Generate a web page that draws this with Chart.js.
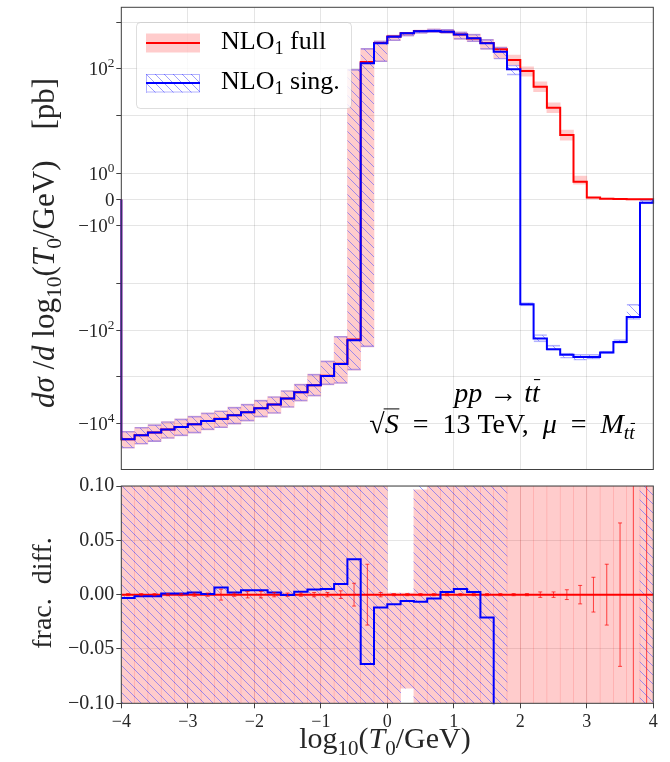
<!DOCTYPE html>
<html>
<head>
<meta charset="utf-8">
<script src="https://cdn.jsdelivr.net/npm/chart.js@4.4.1/dist/chart.umd.min.js"></script>
<style>
  html, body { margin: 0; padding: 0; background: #fff; }
  #wrap { position: relative; width: 670px; height: 762px; }
  canvas { position: absolute; left: 0; }
  #top { top: 0; }
  #bottom { top: 472px; }
</style>
</head>
<body>
<div id="wrap">
  <canvas id="top" width="670" height="472"></canvas>
  <canvas id="bottom" width="670" height="290"></canvas>
</div>
<script>
// bin edges / centres of log10(T0/GeV)
const edges = [-4.0,-3.8,-3.6,-3.4,-3.2,-3.0,-2.8,-2.6,-2.4,-2.2,-2.0,-1.8,-1.6,-1.4,-1.2,-1.0,-0.8,-0.6,-0.4,-0.2,
               0.0,0.2,0.4,0.6,0.8,1.0,1.2,1.4,1.6,1.8,2.0,2.2,2.4,2.6,2.8,3.0,3.2,3.4,3.6,3.8,4.0];
const centres = [-3.9,-3.7,-3.5,-3.3,-3.1,-2.9,-2.7,-2.5,-2.3,-2.1,-1.9,-1.7,-1.5,-1.3,-1.1,-0.9,-0.7,-0.5,-0.3,-0.1,
                 0.1,0.3,0.5,0.7,0.9,1.1,1.3,1.5,1.7,1.9,2.1,2.3,2.5,2.7,2.9,3.1,3.3,3.5,3.7,3.9];

// NLO1 full [pb]
const fullVal = [-22170,-18190,-15910,-13670,-12010,-10500,-8920,-8040,-6730,-5790,
                 -4750,-3960,-2950,-2155,-1523,-959,-526,-159,139,355,
                 490,578,644,647,623,544,448,358,262,153.5,
                 88.9,40.9,14.5,3.74,0.681,0.077,0.03,0.012,0.008,0.006];
const fullLo = [-34600,-28390,-24830,-21340,-18750,-16390,-13920,-12550,-10510,-9040,
                -7410,-6180,-4600,-3360,-2630,-1503,-1400,-726,-229,141,
                399,503,575,593,575,428,379,261,167,120,
                69.5,31.9,11.3,2.92,0.592,0.02,0,0,0,0];
const fullHi = [-14920,-12240,-10710,-9200,-8080,-7070,-6000,-5410,-4530,-3900,
                -3200,-2670,-1985,-1450,-885,-458,-135,97,273,399,
                528,604,678,723,702,622,556,428,297,196,
                110,52.4,18.5,4.79,0.902,0.086,0.05,0.03,0.02,0.02];

// NLO1 sing. [pb]
const singVal = [-22100,-18160,-15890,-13680,-12020,-10520,-8930,-8090,-6740,-5810,
                 -4770,-3970,-2950,-2160,-1530,-964,-531,-164,130.3,351,
                 486,575,640,645,625,547,449,351,231,96.8,
                 -27.7,-151,-256,-340,-376,-376,-302,-179,-51.9,-0.132];
const singLo = [-34600,-28390,-24830,-21340,-18750,-16390,-13920,-12550,-10510,-9040,
                -7410,-6180,-4600,-3360,-2630,-1503,-1400,-726,-229,141,
                399,503,575,593,575,428,379,261,160,73,
                -30,-179,-270,-401,-443,-421,-318,-194,-59,-0.17];
const singHi = [-14920,-12240,-10710,-9200,-8080,-7070,-6000,-5410,-4530,-3900,
                -3200,-2670,-1985,-1450,-885,-458,-135,97,273,399,
                528,604,678,723,702,622,556,428,290,120,
                -25.5,-124,-210,-313,-329,-329,-283,-159,-27.7,0];

// fractional difference panel
const fracFull = [0,0,0,0,0,0,0,0,0,0, 0,0,0,0,0,0,0,0,0,0, 0,0,0,0,0,0,0,0,0,0, 0,0,0,0,0,0,0,0,0,0];
const fracErr = [0.001,0.001,0.001,0.001,0.001,0.0015,0.0015,0.005,0.0015,0.003,
                 0.003,0.002,0.0015,0.0015,0.002,0.002,0.0035,0.0105,0.028,0.002,
                 0.001,0.001,0.001,0.001,0.001,0.001,0.001,0.001,0.001,0.001,
                 0.001,0.0025,0.0025,0.0045,0.0085,0.016,0.028,0.066,1,1];
const fracSing = [-0.003,-0.0015,-0.0015,0.001,0.001,0.002,0.0006,0.0065,0.002,0.004,
                  0.004,0.002,-0.0003,0.0026,0.0047,0.0053,0.0097,0.0326,-0.0638,-0.0118,
                  -0.0088,-0.0059,-0.0065,-0.0035,0.0024,0.0053,0.0024,-0.021,-0.12,-0.37,
                  -1.31,-4.7,-18.7,-92,-553,-4880,-10000,-15000,-6500,-23];
const fracFullLo = [-1,-1,-1,-1,-1,-1,-1,-1,-1,-1, -1,-1,-1,-1,-1,-1,-1,-1,-1,-1,
                    -1,-0.086,-1,-1,-1,-1,-1,-1,-1,-1, -1,-1,-1,-1,-1,-1,-1,-1,-1,-1];
const fracFullHi = [1,1,1,1,1,1,1,1,1,1, 1,1,1,1,1,1,1,1,1,1,
                    0.0015,0.0015,0.0965,1,1,1,1,1,1,1, 1,1,1,1,1,1,1,1,1,1];
const fracSingLo = [-1,-1,-1,-1,-1,-1,-1,-1,-1,-1, -1,-1,-1,-1,-1,-1,-1,-1,-1,-1,
                    -1,-0.086,-1,-1,-1,-1,-1,-1,-1,null, null,null,null,null,null,null,null,null,null,-1];
const fracSingHi = [1,1,1,1,1,1,1,1,1,1, 1,1,1,1,1,1,1,1,1,1,
                    0.0015,0.0015,1,1,1,1,1,1,1,null, null,null,null,null,null,null,null,null,null,1];

const yTicksTop = [-1e4,-1e3,-1e2,-10,-1,0,1,10,1e2,1e3];
const yLabelsTop = [-1e4,-1e2,-1,0,1,1e2];

const FONT = '"Liberation Serif", "DejaVu Serif", serif';
const GRID = 'rgba(0,0,0,0.1)';
const AXIS = '#404040';
const TEXT = '#262626';
Chart.defaults.font.family = FONT;
Chart.defaults.font.size = 18;
Chart.defaults.color = TEXT;

// matplotlib-like symlog, linthresh 2, linscale 1
const LINTHRESH = 2, LINSCALE = 1 / (1 - 1 / 10);
const symlog = v => {
    const a = Math.abs(v);
    return a <= LINTHRESH ? v / LINTHRESH * LINSCALE : Math.sign(v) * (LINSCALE + Math.log10(a / LINTHRESH));
};
const symexp = t => {
    const a = Math.abs(t);
    return a <= LINSCALE ? t / LINSCALE * LINTHRESH : Math.sign(t) * LINTHRESH * Math.pow(10, a - LINSCALE);
};

class SymlogScale extends Chart.Scale {
    static id = 'symlog';
    static defaults = {};
    determineDataLimits() { this.min = this.options.min; this.max = this.options.max; }
    buildTicks() { return yTicksTop.map(v => ({ value: v })); }
    configure() { super.configure(); this._t0 = symlog(this.min); this._t1 = symlog(this.max); }
    getLabelForValue(v) { return String(v); }
    getPixelForValue(v) { return this.getPixelForDecimal((symlog(v) - this._t0) / (this._t1 - this._t0)); }
    getValueForPixel(p) { return symexp(this._t0 + this.getDecimalForPixel(p) * (this._t1 - this._t0)); }
}
Chart.register(SymlogScale);

function makeHatch() {
    const c = document.createElement('canvas');
    c.width = 9; c.height = 9;
    const g = c.getContext('2d');
    g.strokeStyle = 'rgba(80,80,255,0.55)';
    g.lineWidth = 1;
    g.beginPath();
    for (const o of [-9, 0, 9]) { g.moveTo(o, 0); g.lineTo(o + 9, 9); }
    g.stroke();
    return g.createPattern(c, 'repeat');
}
const hatch = makeHatch();

function stepPoints(vals, closed) {
    const pts = [];
    if (closed) pts.push({ x: edges[0], y: 0 });
    vals.forEach((v, i) => pts.push({ x: edges[i], y: v }));
    pts.push({ x: edges[edges.length - 1], y: vals[vals.length - 1] });
    if (closed) pts.push({ x: edges[edges.length - 1], y: 0 });
    return pts;
}
function bandBars(lo, hi) {
    const out = [];
    centres.forEach((c, i) => { if (lo[i] !== null) out.push({ x: c, y: [lo[i], hi[i]] }); });
    return out;
}

// text with italic / sub / sup / overbar pieces
function drawRich(ctx, segs, x, y, size, align) {
    const parts = segs.map(s => {
        const sz = (s.sub || s.sup) ? size * 0.7 : size;
        const font = (s.it ? 'italic ' : '') + sz + 'px ' + FONT;
        ctx.font = font;
        return { s, font, w: ctx.measureText(s.t).width };
    });
    const total = parts.reduce((a, p) => a + p.w, 0);
    let cx = align === 'center' ? x - total / 2 : align === 'right' ? x - total : x;
    ctx.textAlign = 'left';
    ctx.textBaseline = 'alphabetic';
    for (const p of parts) {
        ctx.font = p.font;
        const dy = p.s.sub ? size * 0.22 : p.s.sup ? -size * 0.42 : 0;
        ctx.fillText(p.s.t, cx, y + dy);
        if (p.s.bar) {
            const h = (p.s.sub ? size * 0.7 : size) * (p.s.bar === 'rad' ? 0.86 : 0.8);
            ctx.save();
            ctx.lineWidth = p.s.bar === 'rad' ? 1 : 1.1;
            ctx.strokeStyle = ctx.fillStyle;
            ctx.beginPath();
            const x0 = p.s.bar === 'rad' ? cx - 1 : cx + p.w * 0.25;
            ctx.moveTo(x0, y + dy - h);
            ctx.lineTo(cx + p.w * 1.05, y + dy - h);
            ctx.stroke();
            ctx.restore();
        }
        cx += p.w;
    }
}

function drawFrame(chart) {
    const { ctx, chartArea: a } = chart;
    ctx.save();
    ctx.strokeStyle = AXIS;
    ctx.lineWidth = 1;
    ctx.strokeRect(a.left, a.top, a.right - a.left, a.bottom - a.top);
    ctx.restore();
}

const topDecor = {
    id: 'topDecor',
    afterDatasetsDraw(chart) {
        const ctx = chart.ctx;
        ctx.save();
        ctx.fillStyle = '#000';
        drawRich(ctx, [{ t: 'pp', it: 1 }, { t: ' → ' }, { t: 't', it: 1 }, { t: 't', it: 1, bar: 1 }], 497, 402, 28, 'center');
        drawRich(ctx, [{ t: '√' }, { t: 'S', it: 1, bar: 'rad' }, { t: '  =  13 TeV,  ' }, { t: 'μ', it: 1 }, { t: '  =  ' },
                       { t: 'M', it: 1 }, { t: 't', it: 1, sub: 1 }, { t: 't', it: 1, sub: 1, bar: 1 }], 502, 433, 28, 'center');

        // legend
        ctx.beginPath();
        ctx.roundRect(136.5, 22.5, 215, 86, 4);
        ctx.fillStyle = 'rgba(255,255,255,0.8)';
        ctx.fill();
        ctx.strokeStyle = 'rgba(0,0,0,0.13)';
        ctx.lineWidth = 1;
        ctx.stroke();
        ctx.fillStyle = 'rgba(255,0,0,0.2)';
        ctx.fillRect(146, 33.5, 54, 19);
        ctx.strokeStyle = '#ff0000'; ctx.lineWidth = 2;
        ctx.beginPath(); ctx.moveTo(146, 43); ctx.lineTo(200, 43); ctx.stroke();
        ctx.fillStyle = hatch;
        ctx.fillRect(146, 74, 54, 18.5);
        ctx.strokeStyle = 'rgba(0,0,255,0.3)'; ctx.lineWidth = 1;
        ctx.strokeRect(146.5, 74.5, 53, 17.5);
        ctx.strokeStyle = '#0000ff'; ctx.lineWidth = 2;
        ctx.beginPath(); ctx.moveTo(146, 83); ctx.lineTo(200, 83); ctx.stroke();
        ctx.fillStyle = '#000';
        drawRich(ctx, [{ t: 'NLO' }, { t: '1', sub: 1 }, { t: ' full' }], 221, 48.5, 26, 'left');
        drawRich(ctx, [{ t: 'NLO' }, { t: '1', sub: 1 }, { t: ' sing.' }], 221, 88.5, 26, 'left');
        ctx.restore();
    },
    afterDraw(chart) {
        const ctx = chart.ctx;
        const ys = chart.scales.y;
        drawFrame(chart);
        ctx.save();
        ctx.fillStyle = TEXT;
        for (const v of yLabelsTop) {
            const py = ys.getPixelForValue(v) + 19 * 0.34;
            if (v === 0) { drawRich(ctx, [{ t: '0' }], 114.5, py, 19, 'right'); continue; }
            const e = String(Math.round(Math.log10(Math.abs(v))));
            drawRich(ctx, [{ t: (v < 0 ? '−' : '') + '10' }, { t: e, sup: 1 }], 114.5, py, 19, 'right');
        }
        ctx.translate(54, 243);
        ctx.rotate(-Math.PI / 2);
        drawRich(ctx, [{ t: 'dσ', it: 1 }, { t: ' /' }, { t: 'd', it: 1 }, { t: ' log' }, { t: '10', sub: 1 }, { t: '(' },
                       { t: 'T', it: 1 }, { t: '0', sub: 1 }, { t: '/GeV)' }, { t: '    [pb]' }], 0, 0, 31, 'center');
        ctx.restore();
    }
};

const bottomDecor = {
    id: 'bottomDecor',
    afterDatasetsDraw(chart) {
        const { ctx, chartArea: a } = chart;
        const xs = chart.scales.x, ys = chart.scales.y;
        ctx.save();
        ctx.beginPath();
        ctx.rect(a.left, a.top, a.right - a.left, a.bottom - a.top);
        ctx.clip();
        ctx.strokeStyle = 'rgba(255,0,0,0.7)';
        ctx.lineWidth = 1;
        centres.forEach((c, i) => {
            const px = xs.getPixelForValue(c);
            const y1 = ys.getPixelForValue(fracFull[i] + fracErr[i]);
            const y2 = ys.getPixelForValue(fracFull[i] - fracErr[i]);
            ctx.beginPath();
            ctx.moveTo(px, y1); ctx.lineTo(px, y2);
            ctx.moveTo(px - 2, y1); ctx.lineTo(px + 2, y1);
            ctx.moveTo(px - 2, y2); ctx.lineTo(px + 2, y2);
            ctx.stroke();
        });
        ctx.restore();
    },
    afterDraw(chart) {
        const ctx = chart.ctx;
        drawFrame(chart);
        ctx.save();
        ctx.fillStyle = TEXT;
        drawRich(ctx, [{ t: 'log' }, { t: '10', sub: 1 }, { t: '(' }, { t: 'T', it: 1 }, { t: '0', sub: 1 }, { t: '/GeV)' }], 385, 276, 30, 'center');
        ctx.translate(51, 121);
        ctx.rotate(-Math.PI / 2);
        drawRich(ctx, [{ t: 'frac.  diff.' }], 0, 0, 28, 'center');
        ctx.restore();
    }
};

const barBase = { type: 'bar', grouped: false, barPercentage: 1, categoryPercentage: 1, clip: 0 };

new Chart(document.getElementById('top'), {
    type: 'bar',
    data: {
        datasets: [
            { type: 'line', label: 'NLO1 sing.', data: stepPoints(singVal, true), borderColor: '#0000ff', borderWidth: 2,
              stepped: true, pointRadius: 0, fill: false, order: 0, clip: 1 },
            { ...barBase, label: 'sing. band', data: bandBars(singLo, singHi), backgroundColor: hatch,
              borderColor: 'rgba(0,0,255,0.3)', borderWidth: { top: 1, bottom: 1, left: 0, right: 0 }, borderSkipped: false, order: 1 },
            { type: 'line', label: 'NLO1 full', data: stepPoints(fullVal, true), borderColor: '#ff0000', borderWidth: 2,
              stepped: true, pointRadius: 0, fill: false, order: 2, clip: 1 },
            { ...barBase, label: 'full band', data: bandBars(fullLo, fullHi), backgroundColor: 'rgba(255,0,0,0.2)',
              borderWidth: 0, order: 3 }
        ]
    },
    options: {
        responsive: false,
        animation: false,
        events: [],
        layout: { padding: { left: 0, top: 7.3, right: 16.7, bottom: 2.5 } },
        plugins: { legend: { display: false }, tooltip: { enabled: false } },
        scales: {
            x: {
                type: 'linear', min: -4, max: 4, offset: false,
                ticks: { display: false, stepSize: 1 },
                grid: { color: GRID, drawTicks: false, offset: false },
                border: { display: false },
                afterFit: s => { s.height = 0; }
            },
            y: {
                type: 'symlog', min: -99000, max: 2090, position: 'left',
                ticks: { display: false, autoSkip: false, callback: () => '' },
                grid: { color: GRID, tickColor: AXIS, tickLength: 5 },
                border: { display: false },
                afterFit: s => { s.width = 121.3; }
            }
        }
    },
    plugins: [topDecor]
});

new Chart(document.getElementById('bottom'), {
    type: 'bar',
    data: {
        datasets: [
            { type: 'line', label: 'sing. / full - 1', data: stepPoints(fracSing, false), borderColor: '#0000ff', borderWidth: 2,
              stepped: true, pointRadius: 0, fill: false, order: 0, clip: 1 },
            { type: 'line', label: 'full', data: stepPoints(fracFull, false), borderColor: '#ff0000', borderWidth: 2,
              stepped: true, pointRadius: 0, fill: false, order: 1, clip: 1 },
            { ...barBase, label: 'sing. band', data: bandBars(fracSingLo, fracSingHi), backgroundColor: hatch, borderWidth: 0, order: 2 },
            { ...barBase, label: 'full band', data: bandBars(fracFullLo, fracFullHi), backgroundColor: 'rgba(255,0,0,0.2)', borderWidth: 0, order: 3 }
        ]
    },
    options: {
        responsive: false,
        animation: false,
        events: [],
        layout: { padding: { left: 0, top: 4.7, right: 16.7, bottom: 0 } },
        plugins: { legend: { display: false }, tooltip: { enabled: false } },
        scales: {
            x: {
                type: 'linear', min: -4, max: 4, offset: false,
                ticks: { stepSize: 1, autoSkip: false, maxRotation: 0, padding: 3,
                         callback: v => (v < 0 ? '−' : '') + Math.abs(v) },
                grid: { color: GRID, tickColor: AXIS, tickLength: 5, offset: false },
                border: { display: false },
                afterFit: s => { s.height = 58.7; }
            },
            y: {
                type: 'linear', min: -0.1, max: 0.1,
                ticks: { stepSize: 0.05, padding: 2, font: { size: 20 },
                         callback: v => { const r = Math.abs(v) < 1e-9 ? 0 : v; return (r < 0 ? '−' : '') + Math.abs(r).toFixed(2); } },
                grid: { color: GRID, tickColor: AXIS, tickLength: 5 },
                border: { display: false },
                afterFit: s => { s.width = 121.3; }
            }
        }
    },
    plugins: [bottomDecor]
});
</script>
</body>
</html>
